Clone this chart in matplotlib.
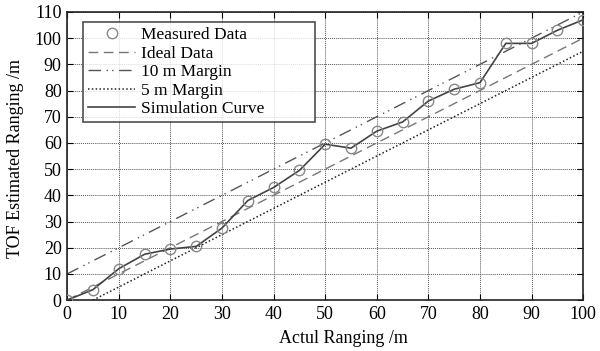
import matplotlib
matplotlib.use("Agg")
import matplotlib.pyplot as plt
import numpy as np

plt.rcParams['font.family'] = ['Liberation Serif', 'DejaVu Serif']

actual = [0, 5, 10, 15, 20, 25, 30, 35, 40, 45, 50, 55, 60, 65, 70, 75, 80, 85, 90, 95, 100]
measured = [0, 4, 12, 17.5, 19.5, 20.5, 27.5, 38, 43, 49.5, 59.5, 58, 64.5, 68, 76, 80.5, 83, 98, 98, 103, 107]
line_x = [0, 100]
ideal = [0, 100]
margin10 = [10, 110]
margin5_x = [5, 100]
margin5 = [0, 95]

fig = plt.figure(figsize=(6, 3.51), dpi=100)
ax = fig.add_axes([0.112, 0.145, 0.86, 0.821])

ax.plot(actual, measured, linestyle='none', marker='o', markersize=7.5, markerfacecolor='none',
        markeredgecolor='#888888', markeredgewidth=1.0, label='Measured Data', zorder=4)
ax.plot(line_x, ideal, color='#777777', linestyle=(0, (7, 4)), linewidth=1.0, label='Ideal Data')
ax.plot(line_x, margin10, color='#555555', linestyle=(0, (9, 4, 1, 3, 1, 4)), linewidth=1.0, label='10 m Margin')
ax.plot(margin5_x, margin5, color='#222222', linestyle=(0, (1, 1.5)), linewidth=1.1, label='5 m Margin')
ax.plot(actual, measured, color='#444444', linewidth=1.2, label='Simulation Curve', zorder=3)

ax.set_xlim(0, 100)
ax.set_ylim(0, 110)
ax.set_xticks(np.arange(0, 101, 10))
ax.set_yticks(np.arange(0, 111, 10))
ax.grid(True, color='#555555', linestyle=(0, (1, 1)), linewidth=0.7)
ax.tick_params(direction='in', top=True, right=True, labelsize=13, length=4, pad=4)
for s in ax.spines.values():
    s.set_linewidth(1.2)
    s.set_color('#222222')

ax.set_xlabel('Actul Ranging /m', fontsize=13)
ax.set_ylabel('TOF Estimated Ranging /m', fontsize=13)
ax.xaxis.set_label_coords(0.535, -0.104)
ax.yaxis.set_label_coords(-0.083, 0.493)

leg = ax.legend(loc='upper left', bbox_to_anchor=(0.031, 0.965, 0.45, 0.0), mode='expand',
                fontsize=12.5, frameon=True,
                fancybox=False, edgecolor='#222222', handlelength=2.7, handletextpad=0.35,
                labelspacing=0.13, borderpad=0.3, borderaxespad=0)
leg.get_frame().set_linewidth(1.2)

fig.savefig('out.png', dpi=100)
